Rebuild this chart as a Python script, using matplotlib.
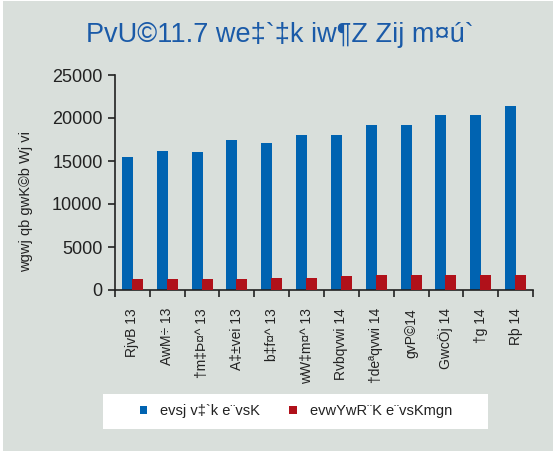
import matplotlib.pyplot as plt
import matplotlib.patches as mpatches
import numpy as np

months = ["RjvB 13", "AwM÷ 13", "†m‡Þ¤^ 13", "A‡±vei 13", "b‡f¤^ 13", "wW‡m¤^ 13",
          "Rvbqvwi 14", "†deªqvwi 14", "gvP©14", "GwcÖj 14", "†g 14", "Rþ 14"]
central_bank = [15500, 16200, 16100, 17400, 17100, 18050,
                18050, 19200, 19200, 20400, 20300, 21400]
commercial_banks = [1300, 1300, 1300, 1300, 1430, 1430,
                    1670, 1780, 1780, 1780, 1780, 1780]

title = "PvU©11.7 we‡`‡k iw¶Z Zij m¤ú`"
ylabel = "wgwj qb gwK©b Wj vi"
legend_labels = ["evsj v‡`k e¨vsK", "evwYwR¨K e¨vsKmgn"]

bg = "#d9dfdb"
blue = "#0063b1"
red = "#b0111a"
font = ["Liberation Sans", "DejaVu Sans"]

fig = plt.figure(figsize=(5.56, 4.51), dpi=100, facecolor="white")
# grey panel behind everything, white strip for the legend
fig.patches.append(mpatches.Rectangle((3 / 556, 0), 550 / 556, 450 / 451,
                                      transform=fig.transFigure, facecolor=bg,
                                      edgecolor="none", zorder=-10))
fig.patches.append(mpatches.Rectangle((103 / 556, 1 - 429 / 451), 385 / 556, 35 / 451,
                                      transform=fig.transFigure, facecolor="white",
                                      edgecolor="none", zorder=-5))

ax = fig.add_axes([115 / 556, 1 - 290 / 451, 418 / 556, 215 / 451])
ax.set_facecolor(bg)
ax.set_zorder(1)

x = np.arange(len(months))
w = 0.316
ax.bar(x - 0.144, central_bank, width=w, color=blue, zorder=2, label=legend_labels[0])
ax.bar(x + 0.144, commercial_banks, width=w, color=red, zorder=3, label=legend_labels[1])

ax.set_xlim(-0.5, len(months) - 0.5)
ax.set_ylim(0, 25000)
ax.set_yticks(np.arange(0, 25001, 5000))
ax.set_yticklabels([str(v) for v in range(0, 25001, 5000)], family=font,
                   fontsize=13, color="#222222")

ax.set_xticks(np.arange(-0.5, len(months), 1.0))
ax.set_xticklabels([])
ax.set_xticks(x, minor=True)
ax.set_xticklabels(months, minor=True, rotation=90, family=font,
                   fontsize=10, color="#222222")
ax.tick_params(axis="x", which="minor", length=0, pad=13)
ax.tick_params(axis="x", which="major", length=5, width=1.2, direction="out", color="#222222")
ax.tick_params(axis="y", length=5, width=1.2, direction="out", color="#222222", pad=4)

for side in ["top", "right"]:
    ax.spines[side].set_visible(False)
for side in ["left", "bottom"]:
    ax.spines[side].set_color("#222222")
    ax.spines[side].set_linewidth(1.2)

ax.set_ylabel(ylabel, family=font, fontsize=10.5, color="#222222", va="center")
ax.yaxis.set_label_coords(-0.213, 0.41)

fig.text(280 / 556, 1 - 35 / 451, title, ha="center", va="center",
         family=font, fontsize=19.5, color="#1a5aa8")

leg = fig.legend(loc="center", bbox_to_anchor=(296 / 556, 1 - 411 / 451), ncol=2,
                 frameon=False, prop={"family": font, "size": 10.5},
                 handlelength=0.5, handleheight=0.5, columnspacing=2.0,
                 handletextpad=0.9)
for t in leg.get_texts():
    t.set_color("#222222")

fig.savefig("out.png", dpi=100, facecolor="white")
